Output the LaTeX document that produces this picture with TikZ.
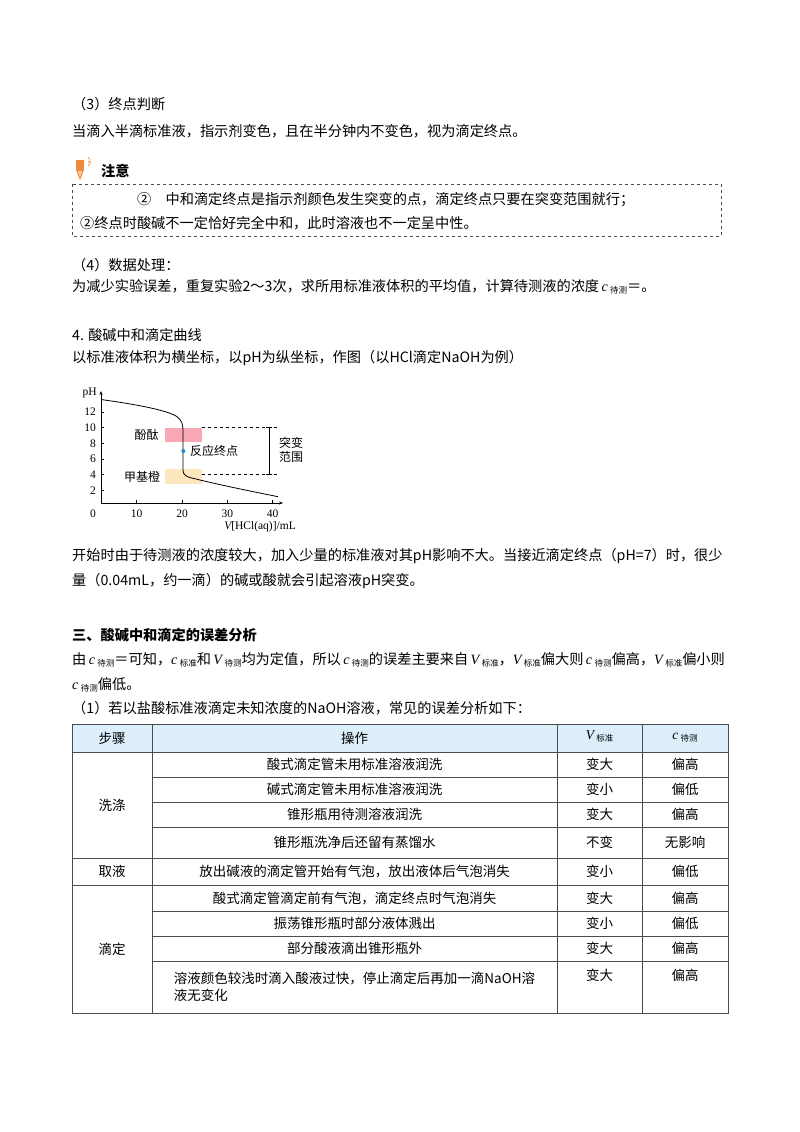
\documentclass[tikz,border=0pt]{standalone}
\usepackage{fontspec}
\setmainfont{Liberation Serif}
\newfontfamily\cjk{Noto Sans CJK SC}
\usetikzlibrary{arrows.meta}
\newcommand{\sbx}[1]{\raisebox{-0.25ex}{\fontsize{8.5}{9}\selectfont\cjk #1}}
\definecolor{hdr}{HTML}{DCEEF9}
\definecolor{pinkb}{HTML}{F7A8B4}
\definecolor{yelb}{HTML}{FBE6BE}
\definecolor{dotc}{HTML}{1E88D0}
\definecolor{pen}{HTML}{F08A3C}
\begin{document}
\begin{tikzpicture}[x=1pt,y=-1pt,
  txt/.style={anchor=west,inner sep=0pt,font=\fontsize{14.2}{16}\selectfont\cjk},
  ctxt/.style={inner sep=0pt,font=\fontsize{13.5}{17}\selectfont\cjk,align=center},
  small/.style={inner sep=0pt,font=\fontsize{11.5}{12}\selectfont},
  lab/.style={inner sep=0pt,font=\fontsize{12}{14}\selectfont\cjk},
  grid/.style={draw=black!70,line width=0.6pt}]
\useasboundingbox (0,0) rectangle (800,1132);
\fill[white] (0,0) rectangle (800,1132);

\node[txt] (t1) at (72,104) {（3）终点判断};
\node[txt] (t2) at (72,131) {当滴入半滴标准液，指示剂变色，且在半分钟内不变色，视为滴定终点。};
% icon
\fill[pen] (76,160) rectangle (84,170);
\fill[pen] (76,170) -- (84,170) -- (80,180) -- cycle;
\fill[yelb!70!pen] (77.5,171) -- (82.5,171) -- (80,177) -- cycle;
\draw[pen,line width=0.6pt] (88,166) arc (60:-60:5);
\fill[pen] (89,162) circle (0.9);
\node[txt,font=\fontsize{14.2}{16}\selectfont\cjk\bfseries] (t3) at (101,171) {注意};
\draw[dashed,black!70,line width=0.6pt] (72,184) rectangle (721,236);
\node[txt] (n1) at (137,200) {②\quad 中和滴定终点是指示剂颜色发生突变的点，滴定终点只要在突变范围就行；};
\node[txt] (n2) at (80,223) {②终点时酸碱不一定恰好完全中和，此时溶液也不一定呈中性。};

\node[txt] (t4) at (72,265) {（4）数据处理：};
\node[txt] (t5) at (72,287) {为减少实验误差，重复实验2～3次，求所用标准液体积的平均值，计算待测液的浓度\,{\rmfamily\itshape c}\,\sbx{待测}＝。};
\node[txt] (t6) at (72,335) {4. 酸碱中和滴定曲线};
\node[txt] (t7) at (72,358) {以标准液体积为横坐标，以pH为纵坐标，作图（以HCl滴定NaOH为例）};

% chart
\fill[pinkb] (165,427.5) rectangle (201.7,441.7);
\fill[yelb] (165,469.3) rectangle (201.7,484.3);
\draw[line width=0.6pt,-{Stealth[length=4pt]}] (101,503) -- (101,391) coordinate (ytop);
\draw[line width=0.6pt,-{Stealth[length=4pt]}] (101,503) -- (283,503) coordinate (xend);
\node[small,anchor=east] (ph) at (97,393) {pH};
\foreach \v/\y in {2/490.3,4/474.6,6/459,8/443.3,10/427.6,12/412} {
  \draw[line width=0.5pt] (101,\y) -- (104,\y);
  \node[small,anchor=east] at (96,\y) {\v};}
\foreach \v/\x in {10/136.7,20/182,30/227.3,40/272.7} {
  \draw[line width=0.5pt] (\x,503) -- (\x,500);
  \node[small] at (\x,514) {\v};}
\node[small] (x0) at (93,514) {0};
\node[small,anchor=east] (xl) at (296,527) {\itshape V\upshape[HCl(aq)]/mL};
\draw[line width=0.8pt] (101,399.5) .. controls (140,405) and (165,410) .. (176,416)
  .. controls (182,420) and (183,424) .. (183,432) -- (183,470)
  .. controls (183,475) and (186,477) .. (196,479)
  .. controls (220,485) and (250,491) .. (278,496.7);
\draw[dashed,line width=0.6pt] (201.7,427.6) -- (278,427.6);
\draw[dashed,line width=0.6pt] (201.7,474.7) -- (278,474.7);
\draw[line width=0.6pt] (266,427.6) -- (272,427.6) (269,427.6) -- (269,474.7) (266,474.7) -- (272,474.7);
\fill[dotc] (183.3,451) circle (2);
\node[lab] (l1) at (146.7,435) {酚酞};
\node[lab] (l2) at (142,477) {甲基橙};
\node[lab,anchor=west] (l3) at (190,451) {反应终点};
\node[lab,align=center] (l4) at (291,450) {突变\\范围};

\node[txt] (t8) at (72,556) {开始时由于待测液的浓度较大，加入少量的标准液对其pH影响不大。当接近滴定终点（pH=7）时，很少};
\node[txt] (t9) at (72,581) {量（0.04mL，约一滴）的碱或酸就会引起溶液pH突变。};

\node[txt,font=\fontsize{14.2}{16}\selectfont\cjk\bfseries] (h3) at (72,635) {三、酸碱中和滴定的误差分析};
\node[txt] (t10) at (72,660) {由\,{\rmfamily\itshape c}\,\sbx{待测}＝可知，{\rmfamily\itshape c}\,\sbx{标准}和\,{\rmfamily\itshape V}\,\sbx{待测}均为定值，所以\,{\rmfamily\itshape c}\,\sbx{待测}的误差主要来自\,{\rmfamily\itshape V}\,\sbx{标准}，{\rmfamily\itshape V}\,\sbx{标准}偏大则\,{\rmfamily\itshape c}\,\sbx{待测}偏高，{\rmfamily\itshape V}\,\sbx{标准}偏小则};
\node[txt] (t11) at (72,685) {{\rmfamily\itshape c}\,\sbx{待测}偏低。};
\node[txt] (t12) at (72,708) {（1）若以盐酸标准液滴定未知浓度的NaOH溶液，常见的误差分析如下：};

% table
\fill[hdr] (72,724) rectangle (728,752);
\draw[grid] (72,724) rectangle (728,1013);
\foreach \y in {752,858,885} \draw[grid] (72,\y) -- (728,\y);
\foreach \y in {777,802,827,911,936,961} \draw[grid] (152,\y) -- (728,\y);
\foreach \x in {152,557,642} \draw[grid] (\x,724) -- (\x,1013);
\node[ctxt] (c1) at (112,738) {步骤};
\node[ctxt] (c2) at (354.5,738) {操作};
\node[ctxt] (c3) at (599.5,736) {{\rmfamily\itshape V}\,\sbx{标准}};
\node[ctxt] (c4) at (685,738) {{\rmfamily\itshape c}\,\sbx{待测}};
\node[ctxt] (g1) at (112,805) {洗涤};
\node[ctxt] (g2) at (112,871) {取液};
\node[ctxt] (g3) at (112,949) {滴定};
\foreach \y/\a/\b/\c in {764.5/酸式滴定管未用标准溶液润洗/变大/偏高,
  789.5/碱式滴定管未用标准溶液润洗/变小/偏低,
  814.5/锥形瓶用待测溶液润洗/变大/偏高,
  842.5/锥形瓶洗净后还留有蒸馏水/不变/无影响,
  871.5/放出碱液的滴定管开始有气泡，放出液体后气泡消失/变小/偏低,
  898/酸式滴定管滴定前有气泡，滴定终点时气泡消失/变大/偏高,
  923.5/振荡锥形瓶时部分液体溅出/变小/偏低,
  948.5/部分酸液滴出锥形瓶外/变大/偏高} {
  \node[ctxt] at (354.5,\y) {\a};
  \node[ctxt] at (599.5,\y) {\b};
  \node[ctxt] at (685,\y) {\c};}
\node[ctxt,align=left] (r9) at (354.5,987) {溶液颜色较浅时滴入酸液过快，停止滴定后再加一滴NaOH溶\\液无变化};
\node[ctxt] (r9b) at (599.5,975) {变大};
\node[ctxt] (r9c) at (685,975) {偏高};
\end{tikzpicture}
\end{document}
